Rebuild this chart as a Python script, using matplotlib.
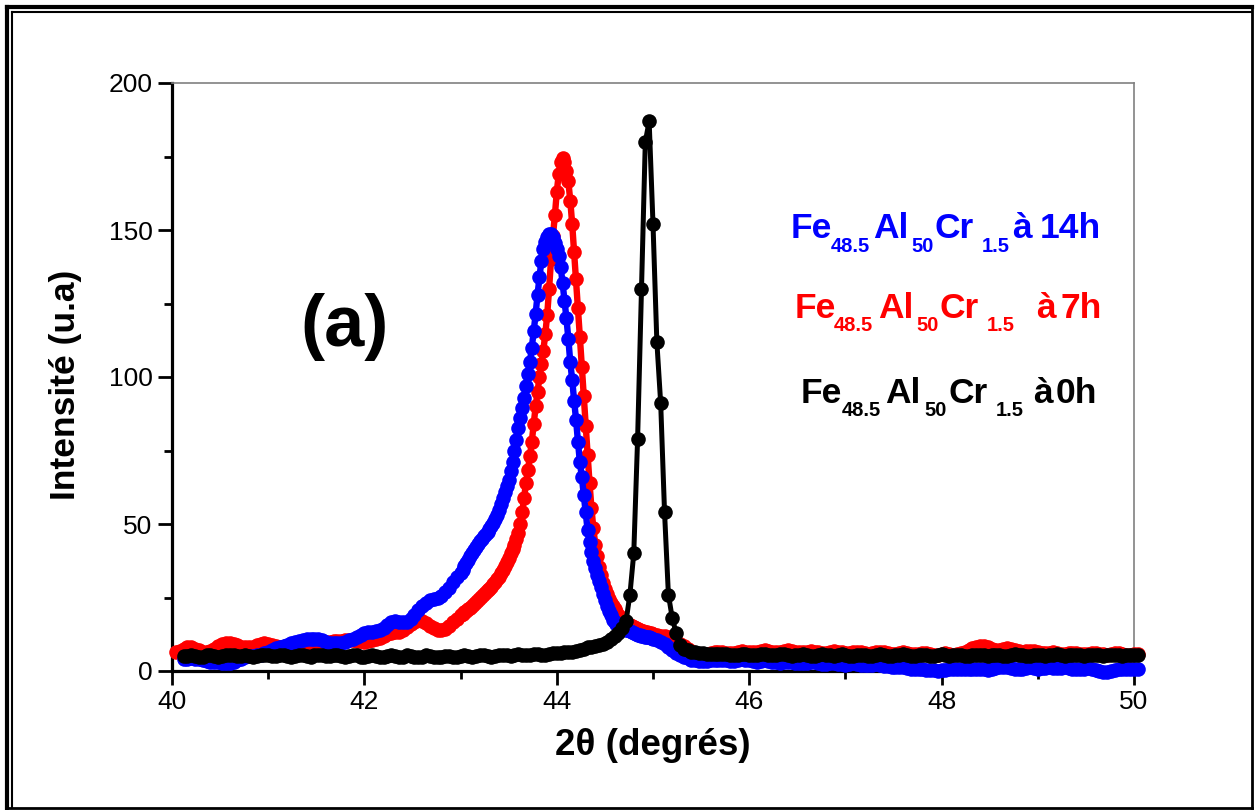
import numpy as np
import matplotlib
matplotlib.use("Agg")
import matplotlib.pyplot as plt
from matplotlib.lines import Line2D

plt.rcParams['font.family'] = ['Liberation Sans', 'DejaVu Sans']

# ---------------- data (2theta grid: 0.04 deg outside 43-45, 0.02 deg inside) ----------------
# Fe48.5Al50Cr1.5 milled 7 h (red)
red_A = [6.5, 6.8, 7.5, 8.0, 8.0, 7.5, 7.0, 6.5, 6.5, 6.8,
         7.5, 8.5, 9.2, 9.5, 9.5, 9.3, 8.8, 8.3, 8.0, 8.0,
         8.3, 8.8, 9.2, 9.5, 9.3, 9.0, 8.6, 8.3, 8.2, 8.2,
         8.3, 8.5, 8.7, 8.8, 9.0, 9.2, 9.3, 9.4, 9.6, 9.8,
         10.0, 10.1, 10.2, 10.3, 10.4, 10.5, 10.5, 10.3, 10.1, 10.0,
         10.2, 10.5, 10.8, 11.3, 12.0, 12.6, 13.0, 13.2, 13.4, 14.0,
         15.0, 16.0, 16.8, 17.2, 17.0, 16.3, 15.4, 14.6, 14.1, 14.0,
         14.4, 15.3, 16.5, 17.8]
red_B = [19.0, 19.5, 20.0, 20.5, 21.0, 21.5, 22.0, 22.8, 23.5, 24.3,
         25.0, 25.6, 26.2, 26.8, 27.4, 28.0, 28.7, 29.5, 30.3, 31.2,
         32.0, 33.2, 34.5, 35.8, 37.0, 38.5, 40.0, 41.5, 43.0, 45.0,
         47.0, 50.0, 54.0, 59.0, 64.0, 68.5, 73.0, 78.0, 84.0, 90.0,
         95.0, 100.0, 104.5, 109.0, 114.5, 121.0, 130.0, 140.0, 148.0, 155.0,
         163.0, 169.0, 173.0, 174.5, 173.0, 170.0, 166.5, 160.0, 152.0, 142.5,
         133.5, 123.5, 113.5, 103.5, 93.5, 83.5, 73.5, 64.0, 55.5, 48.5,
         43.0, 39.0, 35.5, 32.5, 30.0, 28.0, 26.2, 24.6, 23.2, 22.0,
         21.0, 20.0, 19.1, 18.3, 17.6, 17.0, 16.5, 16.0, 15.6, 15.2,
         14.8, 14.5, 14.2, 13.9, 13.7, 13.5, 13.3, 13.1, 13.0, 12.8]
red_C = [12.6, 12.3, 12.0, 11.8, 11.4, 10.8, 10.0, 9.3, 8.4, 7.5,
         6.7, 6.2, 5.9, 5.8, 5.9, 6.1, 6.3, 6.4, 6.3, 6.1,
         6.0, 6.2, 6.5, 6.7, 6.6, 6.4, 6.3, 6.5, 6.8, 7.0,
         6.9, 6.6, 6.4, 6.5, 6.8, 7.0, 6.9, 6.6, 6.4, 6.3,
         6.5, 6.7, 6.6, 6.3, 6.1, 6.2, 6.5, 6.7, 6.6, 6.3,
         6.1, 6.2, 6.4, 6.5, 6.3, 6.0, 5.9, 6.1, 6.4, 6.5,
         6.3, 6.0, 5.8, 5.9, 6.2, 6.3, 6.1, 5.8, 5.7, 5.9,
         6.1, 6.0, 5.7, 5.5, 5.6, 5.9, 6.0, 5.8, 5.6, 5.8,
         6.2, 6.6, 7.2, 7.8, 8.3, 8.5, 8.4, 8.0, 7.5, 7.2,
         7.3, 7.6, 7.8, 7.6, 7.1, 6.7, 6.6, 6.8, 6.9, 6.7,
         6.3, 6.0, 6.0, 6.2, 6.3, 6.1, 5.9, 5.8, 6.0, 6.1,
         6.0, 5.8, 5.7, 5.8, 6.0, 6.1, 5.9, 5.7, 5.6, 5.8,
         6.0, 6.0, 5.8, 5.6, 5.6, 5.7, 5.8]

# Fe48.5Al50Cr1.5 milled 14 h (blue)
blue_A = [4.0, 4.2, 4.3, 4.2, 4.0, 3.6, 3.3, 3.1, 3.0, 2.9,
          2.8, 2.7, 2.8, 3.1, 3.6, 4.2, 4.7, 5.0, 5.2, 5.4,
          5.6, 6.0, 6.6, 7.2, 7.8, 8.2, 8.6, 9.0, 9.4, 9.8,
          10.2, 10.6, 10.9, 11.0, 11.0, 10.8, 10.4, 10.0, 9.6, 9.4,
          9.4, 9.6, 10.0, 10.5, 11.0, 11.6, 12.2, 12.8, 13.2, 13.4,
          13.5, 13.8, 14.5, 15.5, 16.5, 17.0, 16.8, 16.6, 16.8, 17.6,
          19.0, 20.6, 22.0, 23.2, 24.0, 24.4, 24.8, 25.6, 26.8, 28.4,
          30.2, 32.0]
blue_B = [33.5, 34.5, 35.6, 36.7, 37.8, 39.0, 40.2, 41.3, 42.3, 43.3,
          44.2, 45.0, 45.8, 46.6, 47.4, 48.2, 49.2, 50.3, 51.6, 53.0,
          54.8, 56.8, 59.0, 61.0, 63.0, 65.0, 68.0, 71.0, 75.0, 78.5,
          82.5, 86.0, 89.5, 93.0, 97.0, 101.0, 105.0, 110.0, 115.5, 121.5,
          128.0, 134.0, 139.5, 143.5, 146.0, 147.5, 148.5, 148.5, 147.5, 145.5,
          143.5, 141.0, 137.5, 132.0, 126.0, 120.0, 113.0, 105.0, 99.0, 92.0,
          85.5, 78.0, 71.0, 66.0, 60.0, 54.0, 48.0, 44.0, 40.5, 37.5,
          35.0, 32.5, 30.5, 28.5, 26.2, 24.0, 22.0, 20.5, 19.0, 17.5,
          16.6, 15.9, 15.3, 14.8, 14.4, 14.2, 14.0, 13.8, 13.5, 13.2,
          12.9, 12.6, 12.4, 12.2, 12.0, 11.9, 11.7, 11.6, 11.4, 11.2]
blue_C = [11.0, 10.5, 9.8, 9.1, 8.2, 7.2, 6.2, 5.4, 4.8, 4.3,
          3.9, 3.6, 3.4, 3.3, 3.4, 3.6, 3.8, 3.9, 3.8, 3.6,
          3.4, 3.5, 3.8, 4.0, 3.9, 3.6, 3.3, 3.2, 3.4, 3.6,
          3.5, 3.2, 2.9, 2.8, 3.0, 3.2, 3.1, 2.8, 2.6, 2.6,
          2.8, 3.0, 2.9, 2.6, 2.4, 2.5, 2.7, 2.7, 2.5, 2.3,
          2.2, 2.4, 2.6, 2.5, 2.2, 2.0, 2.0, 2.2, 2.3, 2.1,
          1.8, 1.6, 1.5, 1.4, 1.3, 1.2, 1.0, 0.8, 0.7, 0.7,
          0.6, 0.5, 0.4, 0.3, 0.1, 0.2, 0.5, 0.7, 0.8, 0.7,
          0.6, 0.6, 0.6, 0.7, 0.8, 0.7, 0.6, 0.5, 0.6, 0.9,
          1.2, 1.4, 1.2, 0.9, 0.7, 0.6, 0.8, 1.1, 1.2, 1.0,
          0.8, 0.9, 1.1, 1.2, 1.1, 1.0, 1.0, 1.2, 1.1, 0.8,
          0.6, 0.6, 0.8, 0.9, 0.7, 0.4, 0.1, -0.2, -0.3, 0.0,
          0.4, 0.7, 0.8, 0.7, 0.6, 0.7, 0.8]

# Fe48.5Al50Cr1.5 as received, 0 h (black), 0.04 deg step
black_L = [5.0, 5.2, 5.4, 5.1, 4.8, 4.9, 5.3, 5.5, 5.2, 4.9,
           5.0, 5.4, 5.6, 5.3, 5.0, 5.1, 5.4, 5.2, 4.9, 5.1,
           5.5, 5.6, 5.3, 5.0, 5.2, 5.6, 5.5, 5.1, 4.9, 5.2,
           5.6, 5.4, 5.0, 4.9, 5.3, 5.6, 5.3, 5.0, 5.1, 5.5,
           5.6, 5.2, 4.9, 5.1, 5.4, 5.3, 4.9, 4.7, 5.0, 5.4,
           5.2, 4.8, 4.7, 5.0, 5.3, 5.1, 4.8, 4.9, 5.3, 5.2,
           4.8, 4.6, 4.9, 5.3, 5.1, 4.7, 4.6, 4.9, 5.2, 5.0,
           4.7, 4.8, 5.2, 5.4, 5.1, 4.8, 5.0, 5.4, 5.5, 5.2,
           4.9, 5.1, 5.5, 5.6, 5.3, 5.1, 5.3, 5.7, 5.6, 5.3,
           5.4, 5.8, 5.9, 5.6, 5.5, 5.8, 6.1, 6.0, 6.1, 6.4,
           6.5, 6.6, 6.9, 7.2, 7.6, 8.0, 8.2, 8.4, 8.7, 9.2]
black_R = [10.0, 11.0, 12.0, 13.0, 14.5, 17.0, 26.0, 40.0, 79.0, 130.0,
           180.0, 187.0, 152.0, 112.0, 91.0, 54.0, 26.0, 18.0, 13.0, 9.0,
           7.5, 7.0, 6.6, 6.3, 6.1,
           6.0, 5.9, 5.8, 5.7, 5.8, 5.9, 5.7, 5.5, 5.4, 5.6,
           5.8, 5.7, 5.4, 5.3, 5.5, 5.8, 5.9, 5.6, 5.3, 5.4,
           5.7, 5.8, 5.5, 5.2, 5.3, 5.6, 5.7, 5.4, 5.1, 5.2,
           5.5, 5.7, 5.6, 5.3, 5.2, 5.4, 5.7, 5.6, 5.2, 5.0,
           5.3, 5.6, 5.5, 5.2, 5.1, 5.4, 5.7, 5.5, 5.2, 5.1,
           5.3, 5.6, 5.7, 5.4, 5.1, 5.2, 5.5, 5.6, 5.3, 5.0,
           5.2, 5.6, 5.7, 5.4, 5.2, 5.3, 5.6, 5.5, 5.2, 5.0,
           5.3, 5.6, 5.6, 5.3, 5.1, 5.3, 5.6, 5.5, 5.2, 5.1,
           5.4, 5.7, 5.6, 5.3, 5.1, 5.2, 5.5, 5.6, 5.3, 5.1,
           5.3, 5.6, 5.7, 5.4, 5.2, 5.3, 5.6, 5.5, 5.3, 5.2,
           5.4, 5.6, 5.5, 5.3, 5.2, 5.4, 5.6, 5.5, 5.3, 5.2,
           5.4, 5.5, 5.4, 5.3]

x_ticks = [40, 42, 44, 46, 48, 50]
y_ticks = [0, 50, 100, 150, 200]
x_label = "2θ (degrés)"
y_label = "Intensité (u.a)"
panel_label = "(a)"


def grid3(a, b, c):
    xa = 42.96 - 0.04 * np.arange(len(a))[::-1]
    xb = 43.00 + 0.02 * np.arange(len(b))
    xc = xb[-1] + 0.02 + 0.04 * np.arange(len(c))
    return np.concatenate([xa, xb, xc]), np.concatenate([a, b, c])


def grid2(l, r):
    xl = 44.48 - 0.04 * np.arange(len(l))[::-1]
    xr = 44.52 + 0.04 * np.arange(len(r))
    return np.concatenate([xl, xr]), np.concatenate([l, r])


xr_, yr_ = grid3(red_A, red_B, red_C)
xb_, yb_ = grid3(blue_A, blue_B, blue_C)
xk_, yk_ = grid2(black_L, black_R)

W, H = 1256, 810
fig = plt.figure(figsize=(W / 100, H / 100), dpi=100)
ax = fig.add_axes([172 / W, 1 - 671 / H, (1134 - 172) / W, (671 - 83) / H])

ax.plot(xr_, yr_, color='#ff0000', lw=4.6, marker='o', ms=10.5, mew=0,
        clip_on=False, zorder=3)
ax.plot(xb_, yb_, color='#0000ff', lw=4.6, marker='o', ms=10.5, mew=0,
        clip_on=False, zorder=4)
ax.plot(xk_, yk_, color='#000000', lw=3.6, marker='o', ms=10.5, mew=0,
        clip_on=False, zorder=5)

ax.set_xlim(40, 50)
ax.set_ylim(0, 200)
ax.set_xticks(x_ticks)
ax.set_xticks([41, 43, 45, 47, 49], minor=True)
ax.set_yticks(y_ticks)
ax.set_yticks([25, 75, 125, 175], minor=True)
ax.tick_params(which='major', direction='out', length=10, width=2, labelsize=19,
               pad=4, top=False, right=False)
ax.tick_params(which='minor', direction='out', length=5.5, width=2, top=False, right=False)
for s in ('left', 'bottom'):
    ax.spines[s].set_linewidth(2.3)
    ax.spines[s].set_color('black')
for s in ('top', 'right'):
    ax.spines[s].set_linewidth(1.2)
    ax.spines[s].set_color('#808080')

fig.text(653 / W, 1 - 755 / H, x_label, ha='center', va='baseline',
         fontsize=26.5, fontweight='bold')
fig.text(65 / W, 1 - 385 / H, y_label, ha='center', va='center', rotation=90,
         fontsize=25.5, fontweight='bold')
fig.text(345 / W, 1 - 327 / H, panel_label, ha='center', va='center',
         fontsize=52, fontweight='bold')


def put(x, y, s, size, color):
    fig.text(x / W, 1 - y / H, s, ha='left', va='baseline', fontsize=size,
             fontweight='bold', color=color)


legend_rows = [
    ('#0000ff', 238, 252, [(791, 'Fe', 0), (831, '48.5', 1), (873, 'Al', 0), (911, '50', 1),
                           (935, 'Cr', 0), (982, '1.5', 1), (1012, 'à', 0), (1040, '14h', 0)]),
    ('#ff0000', 318, 331, [(795, 'Fe', 0), (834, '48.5', 1), (878, 'Al', 0), (916, '50', 1),
                           (940, 'Cr', 0), (987, '1.5', 1), (1036, 'à', 0), (1061, '7h', 0)]),
    ('#000000', 403, 416, [(801, 'Fe', 0), (842, '48.5', 1), (885, 'Al', 0), (924, '50', 1),
                           (948, 'Cr', 0), (996, '1.5', 1), (1033, 'à', 0), (1056, '0h', 0)]),
]
for color, base, sub_base, parts in legend_rows:
    for x, s, is_sub in parts:
        if is_sub:
            put(x, sub_base, s, 14.5, color)
        else:
            put(x, base, s, 25.5, color)

# double frame around the figure
def fline(x0, y0, x1, y1, lw):
    fig.add_artist(Line2D([x0 / W, x1 / W], [1 - y0 / H, 1 - y1 / H], color='black',
                          lw=lw, transform=fig.transFigure, solid_capstyle='projecting'))

fline(7, 7, 7, 808, 3.0)
fline(7, 7, 1252, 7, 3.0)
fline(12, 12, 12, 808, 1.5)
fline(12, 12, 1252, 12, 1.5)
fline(1252, 7, 1252, 808, 2.0)
fline(7, 808, 1252, 808, 2.0)

fig.savefig('out.png', dpi=100)
